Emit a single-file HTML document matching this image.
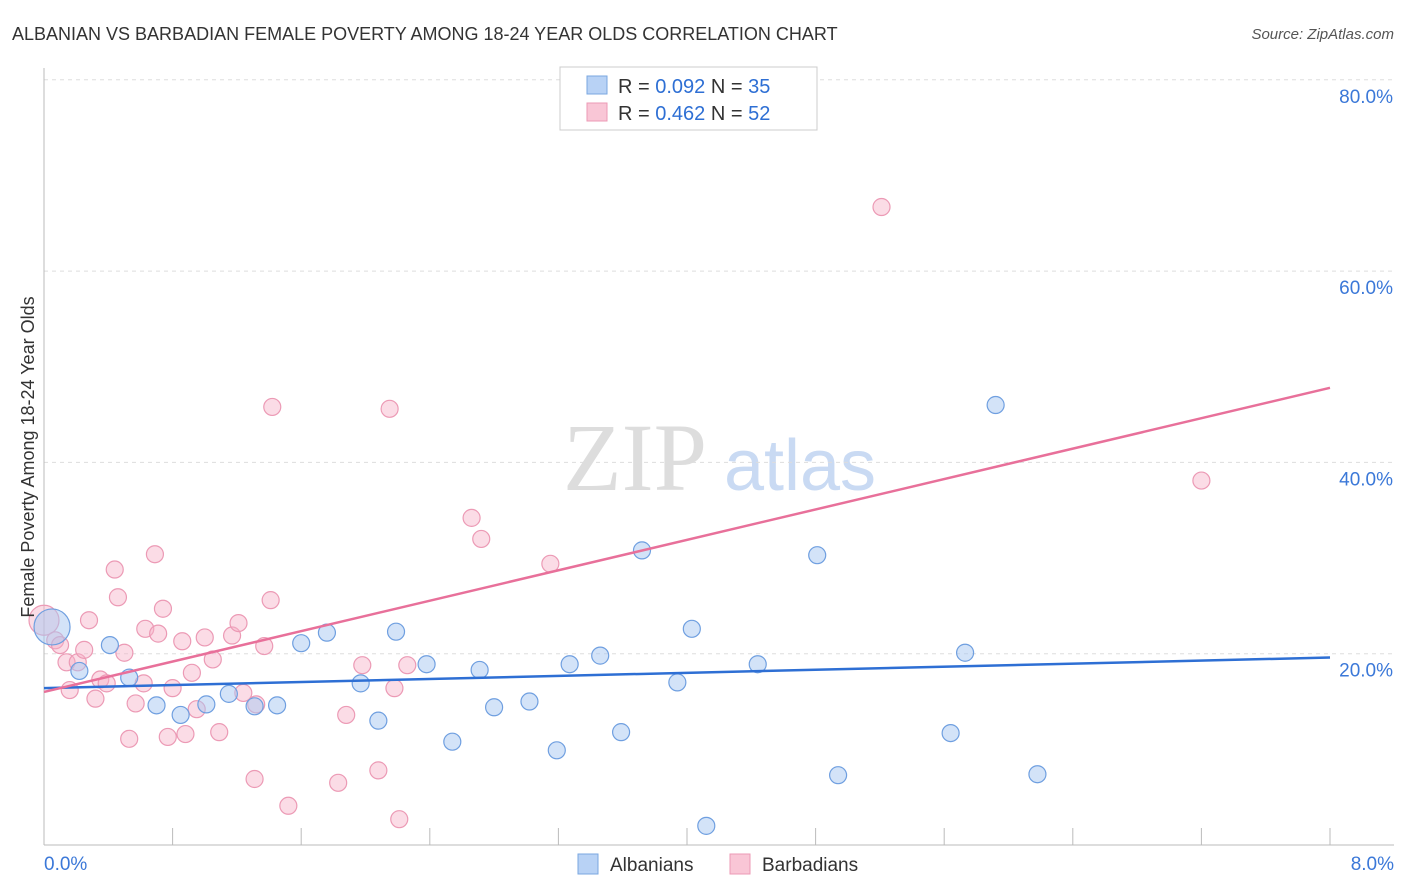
<!DOCTYPE html>
<html><head><meta charset="utf-8">
<style>
body{margin:0;background:#fff;font-family:"Liberation Sans",sans-serif;}
#wrap{position:relative;width:1406px;height:892px;overflow:hidden;}
</style></head>
<body>
<div id="wrap">
<svg id="svg" width="1406" height="892" xmlns="http://www.w3.org/2000/svg">
<text x="12" y="40" font-size="18" fill="#333">ALBANIAN VS BARBADIAN FEMALE POVERTY AMONG 18-24 YEAR OLDS CORRELATION CHART</text>
<text x="1394" y="39" font-size="15" fill="#555" font-style="italic" text-anchor="end">Source: ZipAtlas.com</text>
<text x="635" y="490" font-size="96" fill="#ddd" font-family="Liberation Serif,serif" text-anchor="middle">ZIP</text>
<text x="800" y="490" font-size="72" fill="#c9daf3" text-anchor="middle">atlas</text>
<g id="grid"></g>
<g id="axes"></g>
<g id="pts"></g>
<g id="trends"></g>
<text transform="translate(34,457) rotate(-90)" font-size="18" fill="#333" text-anchor="middle">Female Poverty Among 18-24 Year Olds</text>
<g>
<rect x="560" y="67" width="257" height="63" fill="#fff" stroke="#ccc"/>
<rect x="587" y="76" width="20" height="18" fill="#b8d2f5" stroke="#7aa7e0"/>
<text x="618" y="93" font-size="20" fill="#333">R = <tspan fill="#2e6fd4">0.092</tspan>   N = <tspan fill="#2e6fd4">35</tspan></text>
<rect x="587" y="103" width="20" height="18" fill="#f9c6d6" stroke="#ec9ab5"/>
<text x="618" y="120" font-size="20" fill="#333">R = <tspan fill="#2e6fd4">0.462</tspan>   N = <tspan fill="#2e6fd4">52</tspan></text>
</g>
<g>
<rect x="578" y="854" width="20" height="20" fill="#b8d2f5" stroke="#7aa7e0"/>
<text x="610" y="871" font-size="19" fill="#333">Albanians</text>
<rect x="730" y="854" width="20" height="20" fill="#f9c6d6" stroke="#ec9ab5"/>
<text x="762" y="871" font-size="19" fill="#333">Barbadians</text>
</g>
</svg>
</div>
<script>
const blueX=[0.05,0.22,0.41,0.53,0.70,0.85,1.01,1.15,1.31,1.45,1.60,1.76,1.97,2.08,2.19,2.38,2.54,2.71,2.80,3.02,3.19,3.27,3.46,3.59,3.72,3.94,4.03,4.12,4.44,4.81,4.94,5.64,5.73,5.92,6.18];
const blueY=[22.8,18.2,20.9,17.5,14.6,13.6,14.7,15.8,14.5,14.6,21.1,22.2,16.9,13.0,22.3,18.9,10.8,18.3,14.4,15.0,9.9,18.9,19.8,11.8,30.8,17.0,22.6,2.0,18.9,30.3,7.3,11.7,20.1,46.0,7.4];
const pinkX=[0.0,0.07,0.10,0.14,0.16,0.21,0.25,0.28,0.32,0.35,0.39,0.44,0.46,0.50,0.53,0.57,0.62,0.63,0.69,0.71,0.74,0.77,0.80,0.86,0.88,0.92,0.95,1.00,1.05,1.09,1.17,1.21,1.24,1.31,1.32,1.37,1.41,1.42,1.52,1.83,1.88,1.98,2.08,2.15,2.18,2.21,2.26,2.66,2.72,3.15,5.21,7.20];
const pinkY=[23.5,21.4,20.9,19.1,16.2,19.1,20.4,23.5,15.3,17.3,16.9,28.8,25.9,20.1,11.1,14.8,16.9,22.6,30.4,22.1,24.7,11.3,16.4,21.3,11.6,18.0,14.2,21.7,19.4,11.8,21.9,23.2,15.9,6.9,14.7,20.8,25.6,45.8,4.1,6.5,13.6,18.8,7.8,45.6,16.4,2.7,18.8,34.2,32.0,29.4,66.7,38.1];
const blueTrend=[16.4,19.6];
const pinkTrend=[16.0,47.8];
const yTicks=[20,40,60,80];
const xTickVals=[0,0.8,1.6,2.4,3.2,4.0,4.8,5.6,6.4,7.2,8.0];
const xLabels=["0.0%","8.0%"];
const NS="http://www.w3.org/2000/svg";
const sx=v=>44+v/8*1286;
const sy=v=>845-v/20*191.3;
function mk(tag,attrs,parent){const e=document.createElementNS(NS,tag);for(const k in attrs)e.setAttribute(k,attrs[k]);document.getElementById(parent).appendChild(e);return e;}
yTicks.forEach(t=>{
 const l=mk('line',{x1:44,x2:1394,y1:sy(t),y2:sy(t),stroke:'#ddd','stroke-dasharray':'4,4'},'grid');
 
 
 const tx=mk('text',{x:1393,y:sy(t)+23,'font-size':19,fill:'#3b78d8','text-anchor':'end'},'axes');
 tx.textContent=t.toFixed(1)+'%';
 
 
});
const ax=mk('line',{x1:44,x2:1394,y1:845,y2:845,stroke:'#bbb'},'axes');


const ay=mk('line',{x1:44,x2:44,y1:68,y2:845,stroke:'#bbb'},'axes');


xTickVals.forEach(v=>{
 const t=mk('line',{x1:sx(v),x2:sx(v),y1:828,y2:845,stroke:'#bbb'},'axes');
 
 
});
[[0,xLabels[0],'start',44],[8,xLabels[1],'end',1394]].forEach(a=>{
 const t=mk('text',{x:a[3],y:870,'font-size':19,fill:'#3b78d8','text-anchor':a[2]},'axes');
 t.textContent=a[1];
 
 
});
function pts(X,Y,fill,stroke,name,bigIdx,bigR){
 X.forEach((x,i)=>{
  const c=mk('circle',{cx:sx(x),cy:sy(Y[i]),r:i===bigIdx?bigR:8.5,fill:fill,stroke:stroke,'stroke-width':1.2},'pts');
  
  
 });
}
pts(pinkX,pinkY,'rgba(246,178,200,0.45)','#ec9ab5','barbadian-point',0,15);
pts(blueX,blueY,'rgba(168,200,242,0.5)','#6f9fe0','albanian-point',0,18);
const bl=mk('line',{x1:sx(0),x2:sx(8),y1:sy(blueTrend[0]),y2:sy(blueTrend[1]),stroke:'#2e6fd4','stroke-width':2.5},'trends');


const pl=mk('line',{x1:sx(0),x2:sx(8),y1:sy(pinkTrend[0]),y2:sy(pinkTrend[1]),stroke:'#e8709a','stroke-width':2.5},'trends');


</script>
</body></html>
